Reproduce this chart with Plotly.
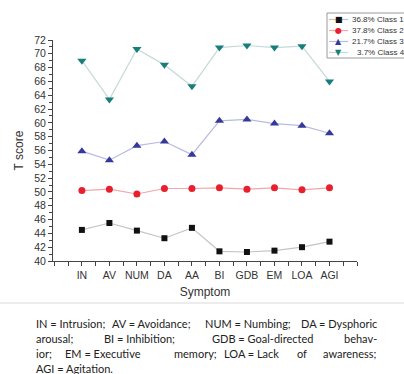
import plotly.graph_objects as go

W, H = 404, 374

symptoms = ["IN", "AV", "NUM", "DA", "AA", "BI", "GDB", "EM", "LOA", "AGI"]
class1 = [44.5, 45.5, 44.4, 43.3, 44.8, 41.4, 41.3, 41.5, 42.0, 42.8]
class2 = [50.2, 50.4, 49.7, 50.5, 50.5, 50.6, 50.4, 50.6, 50.3, 50.6]
class3 = [55.9, 54.6, 56.7, 57.3, 55.4, 60.3, 60.5, 59.9, 59.6, 58.5]
class4 = [69.0, 63.4, 70.7, 68.4, 65.3, 70.9, 71.2, 70.9, 71.1, 66.0]
series_names = ["36.8% Class 1", "37.8% Class 2", "21.7% Class 3", "3.7% Class 4"]
y_ticks = list(range(40, 73, 2))

styles = [
    dict(mc="#111111", lc="#c4c4c4", sym="square", size=6, glyph="\u25A0"),
    dict(mc="#e8202e", lc="#f2a6aa", sym="circle", size=7, glyph="\u25CF"),
    dict(mc="#35399a", lc="#b9bbe2", sym="triangle-up", size=8, glyph="\u25B2"),
    dict(mc="#177e7c", lc="#c6d9d8", sym="triangle-down", size=8, glyph="\u25BC"),
]

def px(x):
    return x / W

def py(y):
    return 1 - y / H

x_idx = list(range(len(symptoms)))
fig = go.Figure()
for vals, name, st in zip([class1, class2, class3, class4], series_names, styles):
    fig.add_trace(go.Scatter(
        x=x_idx, y=vals, name=name, mode="lines+markers",
        line=dict(color=st["lc"], width=1.2),
        marker=dict(color=st["mc"], symbol=st["sym"], size=st["size"], line=dict(width=0)),
        showlegend=False,
    ))

axis_color = "#444444"
fig.update_layout(
    width=W, height=H,
    margin=dict(l=0, r=0, t=0, b=0),
    paper_bgcolor="white", plot_bgcolor="white",
    font=dict(family="Liberation Sans, Arial", color="#333333"),
    xaxis=dict(
        domain=[53 / W, 357 / W], range=[-1.05, 10.0],
        tickmode="array", tickvals=x_idx, ticktext=symptoms,
        ticks="outside", ticklen=4, tickcolor=axis_color,
        minor=dict(dtick=0.5, tick0=0, ticks="outside", ticklen=4, tickcolor=axis_color),
        showline=True, linecolor=axis_color, linewidth=1,
        showgrid=False, zeroline=False, automargin=False,
        tickfont=dict(size=10.5, color="#333333"),
        title=dict(text="Symptom", font=dict(size=12, color="#333333"), standoff=8),
    ),
    yaxis=dict(
        domain=[1 - 261 / H, 1 - 40 / H], range=[40, 72],
        tickmode="array", tickvals=y_ticks,
        ticks="outside", ticklen=4, tickcolor=axis_color,
        minor=dict(dtick=1, tick0=0, ticks="outside", ticklen=3, tickcolor=axis_color),
        showline=True, linecolor=axis_color, linewidth=1,
        showgrid=False, zeroline=False, automargin=False,
        tickfont=dict(size=10.5, color="#333333"),
        title=dict(text="T score", font=dict(size=12, color="#333333"), standoff=8),
    ),
)

shapes = []
annotations = []

# custom compact legend
shapes.append(dict(type="rect", xref="paper", yref="paper",
                   x0=px(327), x1=px(412), y0=py(58), y1=py(13),
                   line=dict(color="#9a9a9a", width=1), fillcolor="white"))
entry_y = [19.5, 30.5, 41.5, 52.5]
for name, st, ey in zip(series_names, styles, entry_y):
    shapes.append(dict(type="line", xref="paper", yref="paper",
                       x0=px(329), x1=px(348), y0=py(ey), y1=py(ey),
                       line=dict(color=st["lc"], width=1.2)))
    annotations.append(dict(text=st["glyph"], x=px(338.5), y=py(ey), xref="paper", yref="paper",
                            showarrow=False, xanchor="center", yanchor="middle",
                            font=dict(size=8, color=st["mc"], family="DejaVu Sans")))
    tx = 355 if name.startswith("3.7") else 350
    annotations.append(dict(text=name, x=px(tx), y=py(ey), xref="paper", yref="paper",
                            showarrow=False, xanchor="left", yanchor="middle",
                            font=dict(size=8, color="#333333", family="Liberation Sans, Arial")))

# faint separator between figure and caption
shapes.append(dict(type="line", xref="paper", yref="paper", x0=0, x1=1, y0=py(303), y1=py(303),
                   line=dict(color="#ececec", width=2)))

# justified caption: word groups placed at measured positions (left-anchored),
# last group of each justified line anchored to the right margin
caption = [
    (323, [(34, "IN = Intrusion;", "left"), (110, "AV = Avoidance;", "left"),
           (203, "NUM = Numbing;", "left"), (379, "DA = Dysphoric", "right")]),
    (338, [(34, "arousal;", "left"), (102, "BI = Inhibition;", "left"),
           (210, "GDB = Goal-directed", "left"), (379, "behav-", "right")]),
    (353, [(34, "ior;", "left"), (63, "EM = Executive", "left"), (172, "memory;", "left"),
           (222, "LOA = Lack", "left"), (295, "of", "left"), (379, "awareness;", "right")]),
    (368, [(34, "AGI = Agitation.", "left")]),
]
for ly, words in caption:
    for wx, wt, anc in words:
        annotations.append(dict(text=wt, x=px(wx), y=py(ly), xref="paper", yref="paper",
                                showarrow=False, xanchor=anc, yanchor="middle",
                                font=dict(size=11, color="#222222", family="Lato")))

fig.update_layout(shapes=shapes, annotations=annotations)

fig.write_html("out.html", config={"displayModeBar": False},
               post_script="document.body.style.margin='0';")
